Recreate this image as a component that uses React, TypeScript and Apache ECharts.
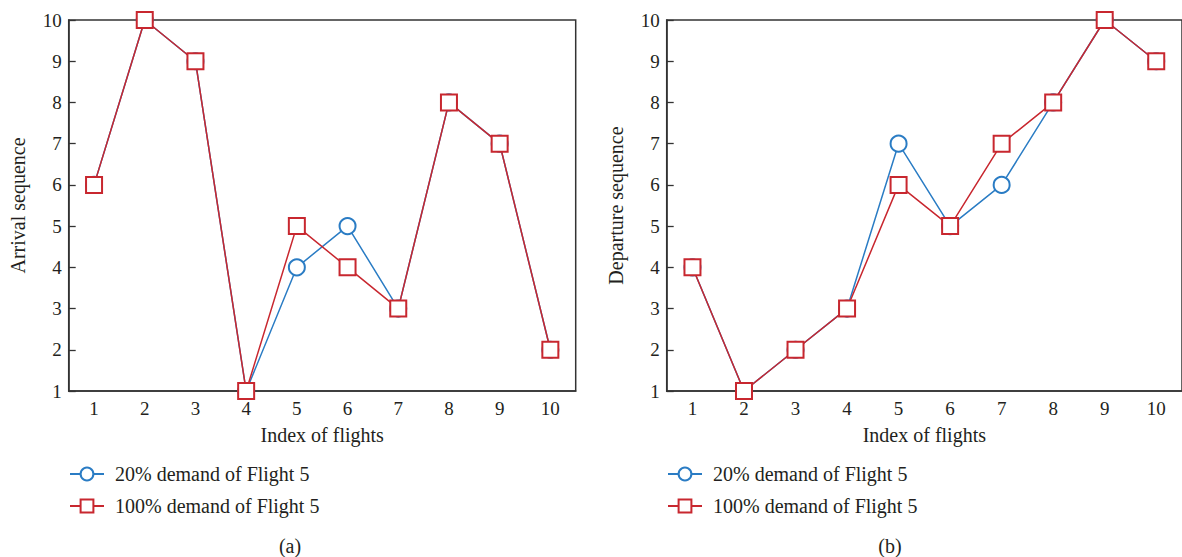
import React, { useEffect, useRef } from "react";
import * as echarts from "echarts";

const flights = ["1", "2", "3", "4", "5", "6", "7", "8", "9", "10"];
const arrival20 = [6, 10, 9, 1, 4, 5, 3, 8, 7, 2];
const arrival100 = [6, 10, 9, 1, 5, 4, 3, 8, 7, 2];
const departure20 = [4, 1, 2, 3, 7, 5, 6, 8, 10, 9];
const departure100 = [4, 1, 2, 3, 6, 5, 7, 8, 10, 9];
const seriesNames = ["20% demand of Flight 5", "100% demand of Flight 5"];

const BLUE = "#2a7cc4";
const RED = "#c8272f";
const TEXT = "#231f20";
const AXIS = "#333333";
const FONT = "'Liberation Serif', 'DejaVu Serif', serif";
const FS = 20;

export default function App() {
  const ref = useRef<HTMLDivElement>(null);
  useEffect(() => {
    if (!ref.current) return;
    const chart = echarts.init(ref.current, null, { renderer: "svg" });
    const xAxisBase = (gridIndex: number) => ({
      type: "category",
      gridIndex,
      data: flights,
      boundaryGap: true,
      name: "Index of flights",
      nameLocation: "middle",
      nameGap: 34,
      nameTextStyle: { fontFamily: FONT, fontSize: FS, color: TEXT },
      axisLine: { lineStyle: { color: AXIS, width: 1.5 } },
      axisTick: { inside: true, length: 7, lineStyle: { color: AXIS, width: 1.3 } },
      axisLabel: { fontFamily: FONT, fontSize: 19, color: TEXT, margin: 8 },
      splitLine: { show: false },
    });
    const yAxisBase = (gridIndex: number, name: string) => ({
      type: "value",
      gridIndex,
      min: 1,
      max: 10,
      interval: 1,
      name,
      nameLocation: "middle",
      nameGap: 41,
      nameTextStyle: { fontFamily: FONT, fontSize: FS, color: TEXT },
      axisLine: { show: true, lineStyle: { color: AXIS, width: 1.5 } },
      axisTick: { show: true, inside: true, length: 7, lineStyle: { color: AXIS, width: 1.3 } },
      axisLabel: { fontFamily: FONT, fontSize: 19, color: TEXT, margin: 7 },
      splitLine: { show: false },
    });
    const mk = (name: string, data: number[], idx: number, color: string, symbol: string) => ({
      type: "line",
      name,
      xAxisIndex: idx,
      yAxisIndex: idx,
      data,
      symbol,
      symbolSize: 16,
      color,
      lineStyle: { color, width: 1.5 },
      itemStyle: { color, borderWidth: 1.5 },
    });
    const legendBase = (left: number) => ({
      orient: "vertical",
      left,
      top: 459,
      itemWidth: 34,
      itemHeight: 16,
      itemGap: 12,
      data: seriesNames,
      textStyle: { fontFamily: FONT, fontSize: FS, color: TEXT, padding: [0, 0, 0, 6] },
      selectedMode: false,
    });
    chart.setOption({
      animation: false,
      backgroundColor: "#ffffff",
      grid: [
        { left: 68.7, top: 20, width: 507, height: 371, show: true, borderColor: AXIS, borderWidth: 1.5, backgroundColor: "transparent" },
        { left: 666.7, top: 20, width: 518, height: 371, show: true, borderColor: AXIS, borderWidth: 1.5, backgroundColor: "transparent" },
      ],
      xAxis: [xAxisBase(0), xAxisBase(1)],
      yAxis: [yAxisBase(0, "Arrival sequence"), yAxisBase(1, "Departure sequence")],
      legend: [legendBase(64), legendBase(662)],
      series: [
        mk(seriesNames[0], arrival20, 0, BLUE, "emptyCircle"),
        mk(seriesNames[1], arrival100, 0, RED, "emptyRect"),
        mk(seriesNames[0], departure20, 1, BLUE, "emptyCircle"),
        mk(seriesNames[1], departure100, 1, RED, "emptyRect"),
      ],
      graphic: [
        { type: "text", x: 290, y: 546, style: { text: "(a)", fontFamily: FONT, fontSize: FS, fill: TEXT, align: "center", verticalAlign: "middle" } },
        { type: "text", x: 890, y: 546, style: { text: "(b)", fontFamily: FONT, fontSize: FS, fill: TEXT, align: "center", verticalAlign: "middle" } },
      ],
    });
    return () => chart.dispose();
  }, []);
  return (
    <div
      ref={ref}
      style={{ position: "fixed", left: 0, top: 0, width: 1182, height: 557 }}
    />
  );
}
